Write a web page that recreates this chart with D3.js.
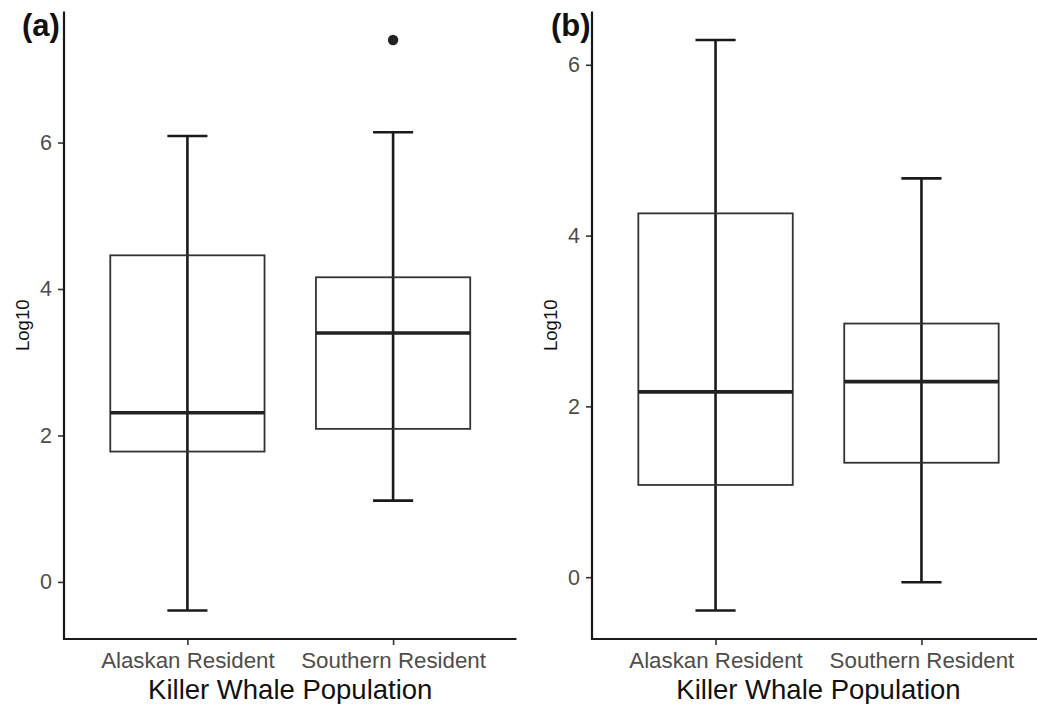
<!DOCTYPE html>
<html>
<head>
<meta charset="utf-8">
<script src="https://cdn.jsdelivr.net/npm/d3@7"></script>
<style>
  html, body { margin: 0; padding: 0; background: #ffffff; }
  svg { display: block; }
  text { font-family: "Liberation Sans", Arial, Helvetica, sans-serif; }
</style>
</head>
<body>
<svg id="chart" width="1037" height="704"></svg>
<script>
// ---- Data ----
const categories = ["Alaskan Resident", "Southern Resident"];
const yTicks = [0, 2, 4, 6];

// Panel (a)
const aLowerWhisker = [-0.39, 1.11];
const aQ1           = [1.78, 2.09];
const aMedian       = [2.31, 3.40];
const aQ3           = [4.46, 4.16];
const aUpperWhisker = [6.09, 6.14];
const aOutliers     = [[], [7.40]];

// Panel (b)
const bLowerWhisker = [-0.39, -0.06];
const bQ1           = [1.08, 1.34];
const bMedian       = [2.17, 2.29];
const bQ3           = [4.26, 2.97];
const bUpperWhisker = [6.29, 4.67];
const bOutliers     = [[], []];

const panelTags = ["(a)", "(b)"];
const xTitle = "Killer Whale Population";
const yTitle = "Log10";

function buildRows(lo, q1, med, q3, hi, outs) {
  return categories.map((c, i) => ({
    cat: c, lo: lo[i], q1: q1[i], med: med[i], q3: q3[i], hi: hi[i], outs: outs[i]
  }));
}

const panels = [
  { tag: panelTags[0], left: 64, right: 516.5, tagX: 22, yTitleX: 23,
    rows: buildRows(aLowerWhisker, aQ1, aMedian, aQ3, aUpperWhisker, aOutliers) },
  { tag: panelTags[1], left: 592, right: 1045, tagX: 551, yTitleX: 551,
    rows: buildRows(bLowerWhisker, bQ1, bMedian, bQ3, bUpperWhisker, bOutliers) }
];

const svg = d3.select("#chart");
const plotTop = 11.5, plotBottom = 639;

panels.forEach(p => {
  const g = svg.append("g");
  const allVals = p.rows.flatMap(r => [r.lo, r.hi, ...r.outs]);
  const lo = d3.min(allVals), hi = d3.max(allVals);
  const pad = (hi - lo) * 0.05;
  const y = d3.scaleLinear().domain([lo - pad, hi + pad]).range([plotBottom, plotTop]);
  const x = d3.scalePoint().domain(categories).range([p.left, p.right]).padding(0.6);
  const step = x.step();
  const boxW = step * 0.75;
  const capW = step * 0.195;

  // whiskers (error bars)
  const wg = g.append("g").attr("stroke", "#1a1a1a").attr("stroke-width", 2.6).attr("fill", "none");
  p.rows.forEach(r => {
    const cx = x(r.cat);
    wg.append("line").attr("x1", cx).attr("x2", cx).attr("y1", y(r.lo)).attr("y2", y(r.hi));
    wg.append("line").attr("x1", cx - capW / 2).attr("x2", cx + capW / 2).attr("y1", y(r.hi)).attr("y2", y(r.hi));
    wg.append("line").attr("x1", cx - capW / 2).attr("x2", cx + capW / 2).attr("y1", y(r.lo)).attr("y2", y(r.lo));
  });

  // boxes
  const bg = g.append("g");
  p.rows.forEach(r => {
    const cx = x(r.cat);
    bg.append("rect")
      .attr("x", cx - boxW / 2).attr("width", boxW)
      .attr("y", y(r.q3)).attr("height", y(r.q1) - y(r.q3))
      .attr("fill", "none").attr("stroke", "#333333").attr("stroke-width", 1.8);
    bg.append("line")
      .attr("x1", cx - boxW / 2).attr("x2", cx + boxW / 2)
      .attr("y1", y(r.med)).attr("y2", y(r.med))
      .attr("stroke", "#222222").attr("stroke-width", 3.6);
    r.outs.forEach(o => {
      bg.append("circle").attr("cx", cx).attr("cy", y(o)).attr("r", 5.2).attr("fill", "#222222");
    });
  });

  // axes
  const yAxis = d3.axisLeft(y).tickValues(yTicks).tickSize(6).tickPadding(6).tickFormat(d3.format("d"));
  const yg = g.append("g").attr("transform", `translate(${p.left},0)`).call(yAxis);
  yg.select(".domain").remove();
  yg.selectAll(".tick line").attr("stroke", "#333333").attr("stroke-width", 1.6);
  yg.selectAll(".tick text").attr("fill", "#4d4d4d").attr("font-size", 21.5);

  const xAxis = d3.axisBottom(x).tickSize(6).tickPadding(7);
  const xg = g.append("g").attr("transform", `translate(0,${plotBottom})`).call(xAxis);
  xg.select(".domain").remove();
  xg.selectAll(".tick line").attr("stroke", "#333333").attr("stroke-width", 1.6);
  xg.selectAll(".tick text").attr("fill", "#4d4d4d").attr("font-size", 22.3);

  // axis lines
  g.append("line").attr("x1", p.left).attr("x2", p.left).attr("y1", plotTop).attr("y2", plotBottom + 1)
    .attr("stroke", "#1a1a1a").attr("stroke-width", 2.2);
  g.append("line").attr("x1", p.left - 1).attr("x2", p.right).attr("y1", plotBottom).attr("y2", plotBottom)
    .attr("stroke", "#1a1a1a").attr("stroke-width", 2.2);

  // titles
  g.append("text").attr("x", (x(categories[0]) + x(categories[1])) / 2).attr("y", 699)
    .attr("text-anchor", "middle").attr("font-size", 27.5).attr("fill", "#111111").text(xTitle);
  g.append("text").attr("transform", `translate(${p.yTitleX + 6},${(plotTop + plotBottom) / 2}) rotate(-90)`)
    .attr("text-anchor", "middle").attr("font-size", 18.5).attr("fill", "#111111").text(yTitle);
  g.append("text").attr("x", p.tagX).attr("y", 36).attr("font-size", 31).attr("font-weight", "bold")
    .attr("fill", "#111111").text(p.tag);
});
</script>
</body>
</html>
